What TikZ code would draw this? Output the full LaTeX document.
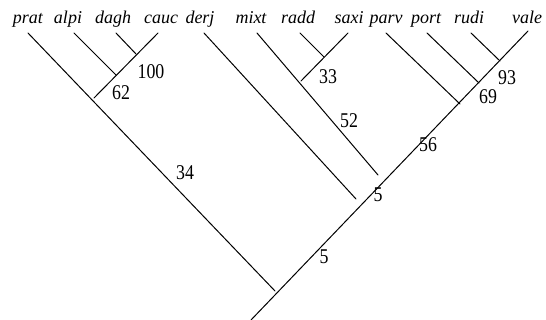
\documentclass[tikz,border=0pt]{standalone}
\usepackage{fontspec}
\setmainfont{Liberation Serif}
\newfontfamily\numfont[FakeStretch=0.85]{Liberation Serif}
\begin{document}
\begin{tikzpicture}[x=1pt,y=-1pt,
  branch/.style={line width=1pt,line cap=round},
  taxon/.style={anchor=base,inner sep=0pt,font=\fontsize{18}{18}\selectfont\itshape},
  supp/.style={inner sep=0pt,font=\numfont\fontsize{21}{21}\selectfont}]
\useasboundingbox (0,0) rectangle (546,320);
% taxon labels
\node[taxon] (Lprat) at (28,24) {prat};
\node[taxon] (Lalpi) at (68,24) {alpi};
\node[taxon] (Ldagh) at (113,24) {dagh};
\node[taxon] (Lcauc) at (161,24) {cauc};
\node[taxon] (Lderj) at (200,24) {derj};
\node[taxon] (Lmixt) at (251,24) {mixt};
\node[taxon] (Lradd) at (298,24) {radd};
\node[taxon] (Lsaxi) at (349,24) {saxi};
\node[taxon] (Lparv) at (386,24) {parv};
\node[taxon] (Lport) at (426,24) {port};
\node[taxon] (Lrudi) at (469,24) {rudi};
\node[taxon] (Lvale) at (527,24) {vale};
% tips
\coordinate (prat) at (28,33);
\coordinate (alpi) at (74,33);
\coordinate (dagh) at (116,33);
\coordinate (cauc) at (158,33);
\coordinate (derj) at (204,33);
\coordinate (mixt) at (257,33);
\coordinate (radd) at (300,33);
\coordinate (saxi) at (348,33);
\coordinate (parv) at (386,33);
\coordinate (port) at (427,33);
\coordinate (rudi) at (471,33);
\coordinate (vale) at (528,31);
% internal nodes
\coordinate (n100) at (136,54);
\coordinate (nalp) at (116,75);
\coordinate (n62) at (94,98);
\coordinate (n33) at (324,57);
\coordinate (nmix) at (301,81);
\coordinate (n93) at (500,61);
\coordinate (n69) at (479,83);
\coordinate (nparv) at (460,104);
\coordinate (n52) at (378,175);
\coordinate (nderj) at (356,199);
\coordinate (root) at (275,291);
\coordinate (base) at (251,320);
% branches
\draw[branch] (prat) -- (root);
\draw[branch] (cauc) -- (n62);
\draw[branch] (dagh) -- (n100);
\draw[branch] (alpi) -- (nalp);
\draw[branch] (derj) -- (nderj);
\draw[branch] (mixt) -- (n52);
\draw[branch] (saxi) -- (nmix);
\draw[branch] (radd) -- (n33);
\draw[branch] (parv) -- (nparv);
\draw[branch] (port) -- (n69);
\draw[branch] (rudi) -- (n93);
\draw[branch] (vale) -- (base);
% support values
\node[supp] (s100) at (151,72) {100};
\node[supp] (s62) at (121,93) {62};
\node[supp] (s33) at (328,77) {33};
\node[supp] (s93) at (507,78) {93};
\node[supp] (s69) at (488,97) {69};
\node[supp] (s52) at (349,121) {52};
\node[supp] (s56) at (428,145) {56};
\node[supp] (s5a) at (378,195) {5};
\node[supp] (s34) at (185,173) {34};
\node[supp] (s5b) at (324,257) {5};
\end{tikzpicture}
\end{document}
